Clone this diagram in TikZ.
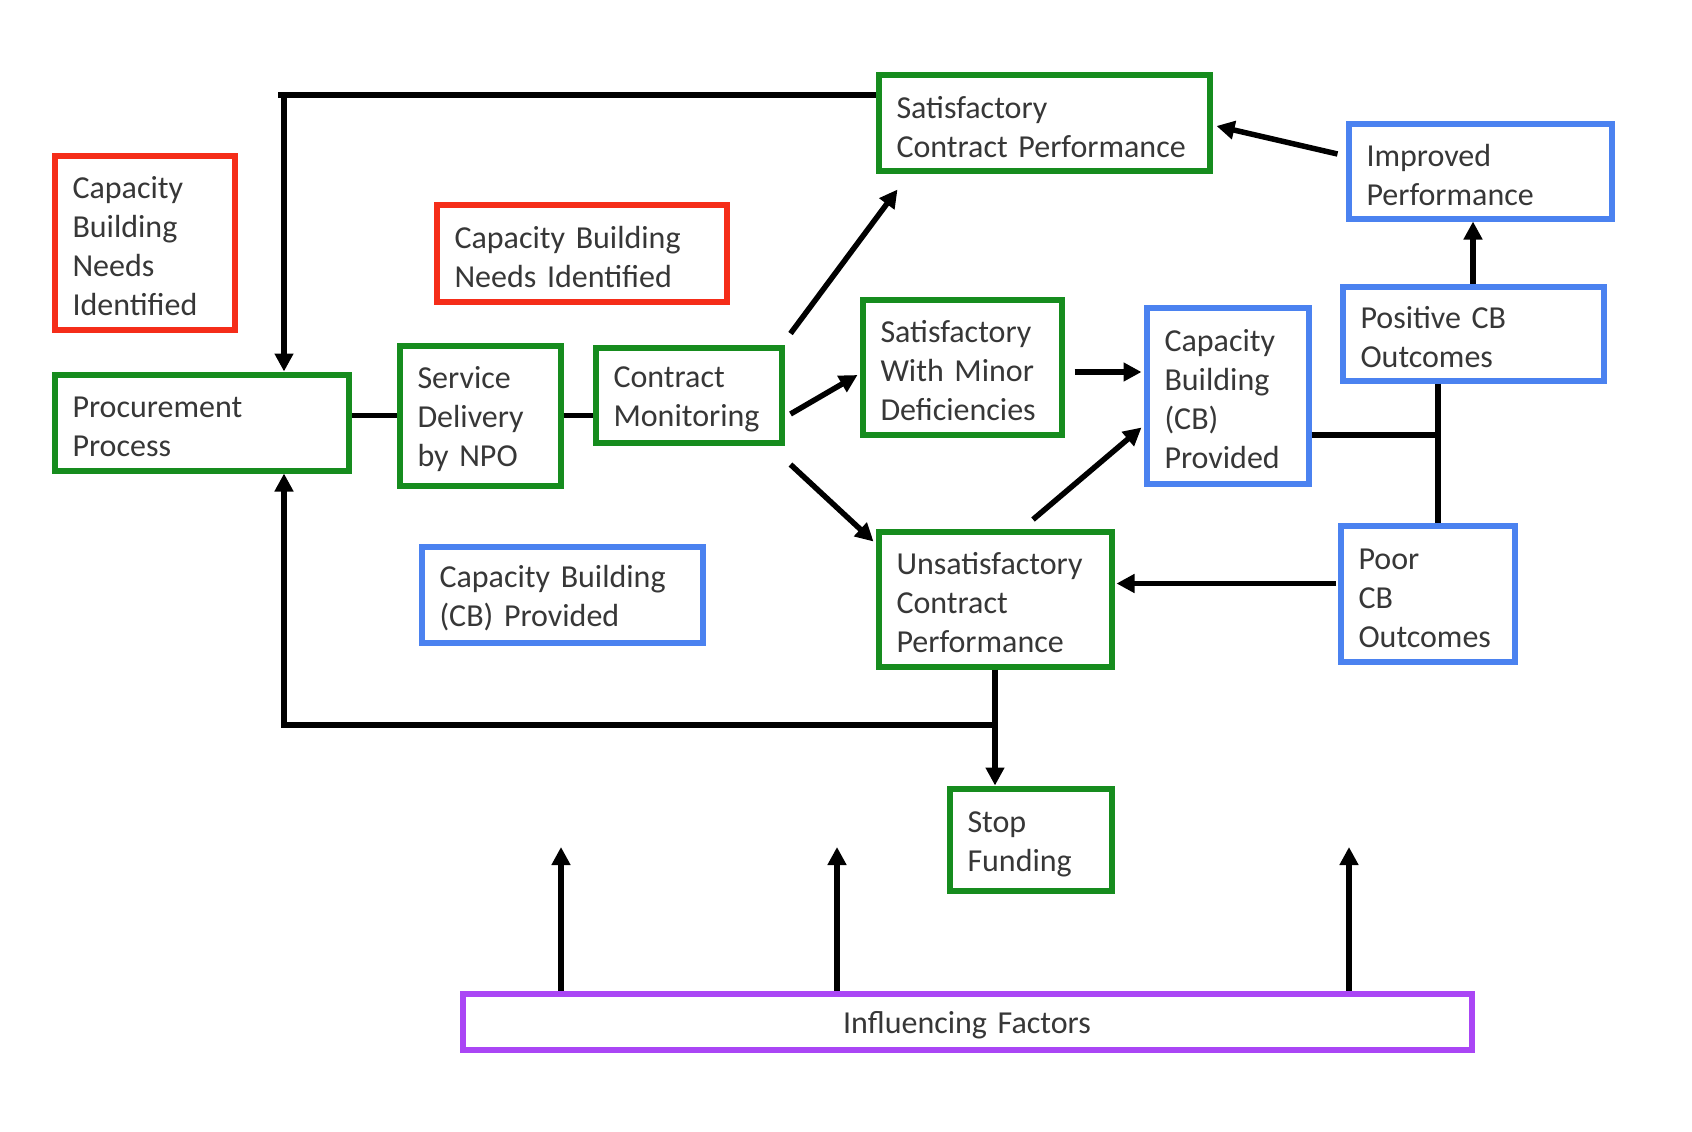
\documentclass[tikz,border=0pt]{standalone}
\usepackage{fontspec}
\setmainfont{Carlito}
\usetikzlibrary{arrows.meta,calc}
\definecolor{gbox}{RGB}{22,140,30}
\definecolor{rbox}{RGB}{245,45,25}
\definecolor{bbox}{RGB}{75,130,240}
\definecolor{pbox}{RGB}{170,70,245}
\definecolor{txt}{RGB}{55,55,55}
\tikzset{
  bx/.style={draw=#1, line width=6pt, fill=white, inner xsep=18pt, inner ysep=0pt,
    align=left, text=txt, font=\fontsize{32}{39}\selectfont,
    execute at begin node={\rule{0pt}{30pt}}},
  conn/.style={line width=5.5pt, draw=black},
  arr/.style={conn, -{Triangle[length=18pt,width=18pt]}},
}
\begin{document}
\begin{tikzpicture}[x=1pt,y=-1pt]
\fill[white] (0,0) rectangle (1692,1132);
\useasboundingbox (0,0) rectangle (1692,1132);

% boxes
\node[bx=rbox, text width=144pt, minimum height=174pt] (rb1) at (144.5,242.5) {Capacity\\Building\\Needs\\Identified};
\node[bx=gbox, text width=258pt, minimum height=96pt] (proc) at (201.5,422.5) {Procurement\\Process};
\node[bx=gbox, text width=125pt, minimum height=140pt] (serv) at (480,415.5) {Service\\Delivery\\by NPO};
\node[bx=gbox, text width=150pt, minimum height=95pt] (cmon) at (688.5,395) {Contract\\Monitoring};
\node[bx=rbox, text width=254pt, minimum height=97pt] (rb2) at (581.5,253) {Capacity Building\\Needs Identified};
\node[bx=gbox, text width=295pt, minimum height=95pt] (scp) at (1044,123) {Satisfactory\\Contract Performance};
\node[bx=gbox, text width=163pt, minimum height=135pt] (swmd) at (962,367) {Satisfactory\\With Minor\\Deficiencies};
\node[bx=bbox, text width=126pt, minimum height=176pt] (cbp) at (1227.5,395.5) {Capacity\\Building\\(CB)\\Provided};
\node[bx=bbox, text width=227pt, minimum height=95pt] (imp) at (1480,171) {Improved\\Performance};
\node[bx=bbox, text width=225pt, minimum height=94pt] (pos) at (1473,333.5) {Positive CB\\Outcomes};
\node[bx=bbox, text width=138pt, minimum height=136pt] (poor) at (1427.5,593.5) {Poor\\CB\\Outcomes};
\node[bx=gbox, text width=197pt, minimum height=135pt] (unsat) at (995,599) {Unsatisfactory\\Contract\\Performance};
\node[bx=bbox, text width=245pt, minimum height=96pt] (cbl) at (562,594.5) {Capacity Building\\(CB) Provided};
\node[bx=gbox, text width=126pt, minimum height=102pt] (stop) at (1030.5,839.5) {Stop\\Funding};
\node[bx=pbox, text width=973pt, minimum height=56pt, align=center] (infl) at (967,1021.5) {Influencing Factors};

% helper coordinates
\coordinate (T) at (284,95);
\coordinate (L) at (284,725);
\coordinate (J) at (1438,435);
\coordinate (f1) at (561,847);
\coordinate (f2) at (837,847);
\coordinate (f3) at (1349,847);

% connectors
\draw[arr] (T -| scp.west) -- ([xshift=-6pt]T) -- (T) -- (T |- proc.north);
\draw[conn] (serv.west) -- (serv.west -| proc.east);
\draw[conn] (serv.east) -- (serv.east -| cmon.west);
\draw[arr] ([xshift=6pt,yshift=11pt]cmon.north east) -- ([xshift=22pt,yshift=-16pt]scp.south west);
\draw[arr] ([xshift=6pt,yshift=-19pt]cmon.east) -- ([xshift=-2pt,yshift=-8pt]swmd.west);
\draw[arr] ([xshift=6pt,yshift=-19pt]cmon.south east) -- ([xshift=-2pt,yshift=-13pt]unsat.north west);
\draw[arr] ([xshift=10pt,yshift=-5pt]swmd.east) -- ([xshift=-2pt,yshift=-5pt]swmd.east -| cbp.west);
\draw[arr] ([xshift=38pt,yshift=9pt]unsat.north) -- ([xshift=-2pt,yshift=-32pt]cbp.west);
\draw[conn] (cbp.east |- J) -- (J);
\draw[conn] (pos.south -| J) -- (poor.north -| J);
\draw[arr] (pos.north) -- (pos.north |- imp.south);
\draw[arr] ([xshift=-8pt,yshift=17pt]imp.west) -- ([xshift=4pt,yshift=-3pt]scp.east);
\draw[arr] ([xshift=-2pt,yshift=10pt]poor.west) -- ([xshift=2pt,yshift=10pt]poor.west -| unsat.east);
\draw[arr] (unsat.south) -- (unsat.south |- stop.north);
\draw[arr] (unsat.south |- L) -- (L) -- (L |- proc.south);
\draw[arr] (f1 |- infl.north) -- (f1);
\draw[arr] (f2 |- infl.north) -- (f2);
\draw[arr] (f3 |- infl.north) -- (f3);
\end{tikzpicture}
\end{document}
